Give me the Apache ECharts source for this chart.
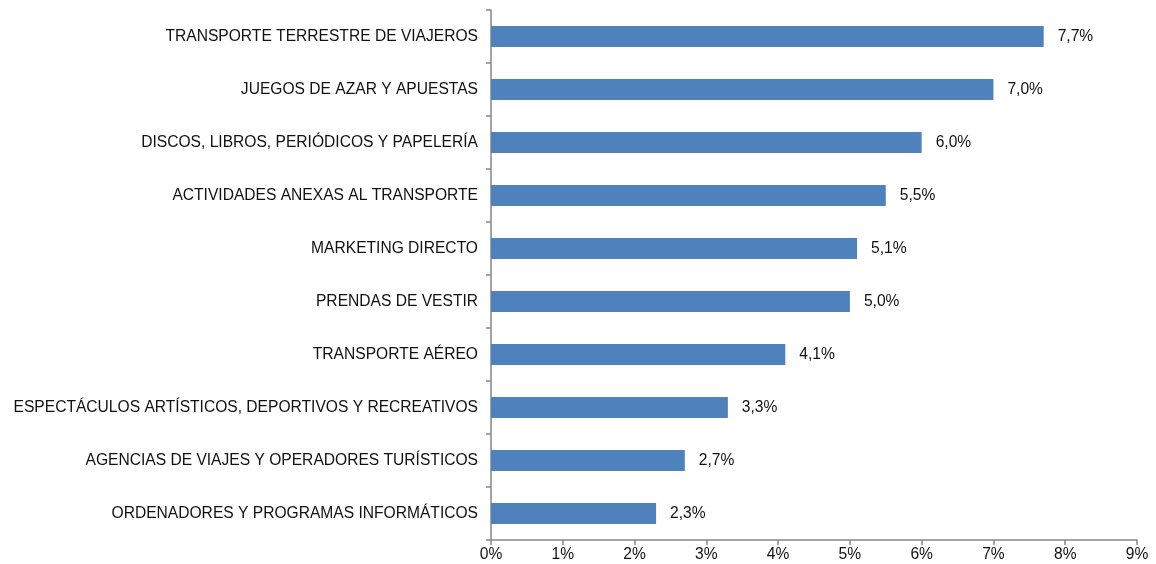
<!DOCTYPE html>
<html>
<head>
<meta charset="utf-8">
<script src="https://cdn.jsdelivr.net/npm/echarts@6/dist/echarts.min.js"></script>
<style>
html, body { margin: 0; padding: 0; background: #fff; }
#chart { width: 1156px; height: 564px; }
</style>
</head>
<body>
<div id="chart"></div>
<script>
// categorias (de abajo hacia arriba)
var categorias = [
	'ORDENADORES Y PROGRAMAS INFORMÁTICOS',
	'AGENCIAS DE VIAJES Y OPERADORES TURÍSTICOS',
	'ESPECTÁCULOS ARTÍSTICOS, DEPORTIVOS Y RECREATIVOS',
	'TRANSPORTE AÉREO',
	'PRENDAS DE VESTIR',
	'MARKETING DIRECTO',
	'ACTIVIDADES ANEXAS AL TRANSPORTE',
	'DISCOS, LIBROS, PERIÓDICOS Y PAPELERÍA',
	'JUEGOS DE AZAR Y APUESTAS',
	'TRANSPORTE TERRESTRE DE VIAJEROS'
];
var valores = [2.3, 2.7, 3.3, 4.1, 5.0, 5.1, 5.5, 6.0, 7.0, 7.7];

var myChart = echarts.init(document.getElementById('chart'));

var option = {
	animation : false,
	textStyle : { fontFamily : 'Liberation Sans, Arial, sans-serif' },
	grid : { left : 491, right : 19, top : 10, bottom : 24, containLabel : false },
	xAxis : {
		type : 'value',
		min : 0,
		max : 9,
		interval : 1,
		axisLine : { show : true, lineStyle : { color : '#868686', width : 1.5 } },
		axisTick : { show : true, length : 5, lineStyle : { color : '#868686', width : 1.5 } },
		splitLine : { show : false },
		axisLabel : {
			color : '#111',
			fontSize : 15.6,
			margin : 7,
			formatter : function(v) { return v + '%'; }
		}
	},
	yAxis : {
		type : 'category',
		data : categorias,
		axisLine : { show : true, lineStyle : { color : '#868686', width : 1.5 } },
		axisTick : { show : true, length : 5, lineStyle : { color : '#868686', width : 1.5 } },
		axisLabel : { color : '#111', fontSize : 15.6, margin : 13 }
	},
	series : [ {
		type : 'bar',
		data : valores,
		barWidth : '40%',
		itemStyle : { color : '#4f81bd' },
		label : {
			show : true,
			position : 'right',
			distance : 14,
			color : '#111',
			fontSize : 15.6,
			formatter : function(p) { return p.value.toFixed(1).replace('.', ',') + '%'; }
		}
	} ]
};

myChart.setOption(option);
</script>
</body>
</html>
